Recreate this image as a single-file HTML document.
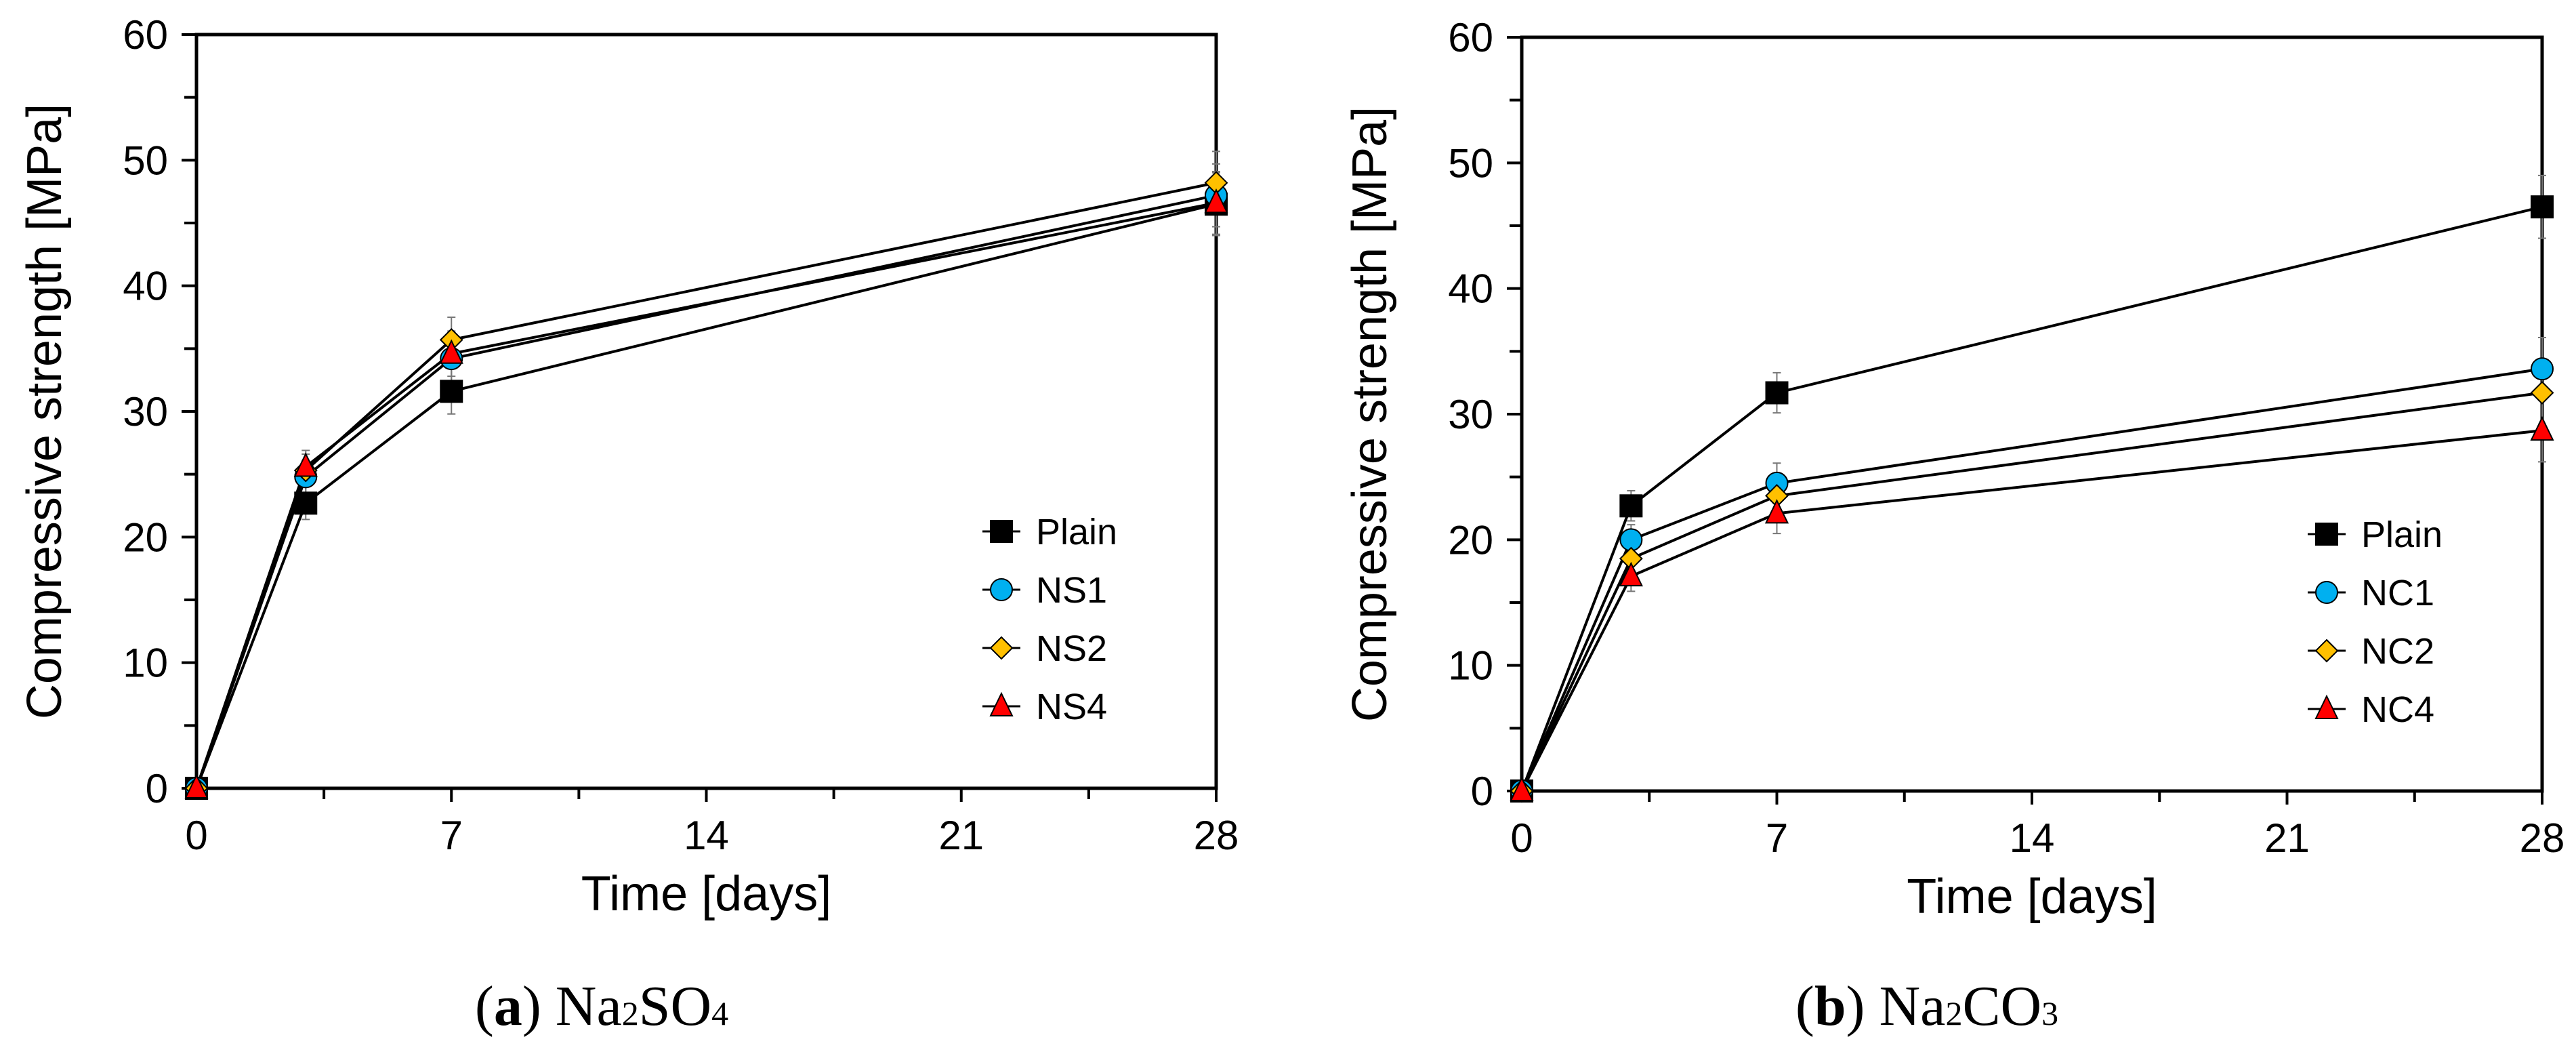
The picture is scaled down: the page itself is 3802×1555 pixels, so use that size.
<!DOCTYPE html>
<html><head><meta charset="utf-8"><style>
html,body{margin:0;padding:0;background:#fff;}
svg{display:block;}
text{font-family:"Liberation Sans",Arial,sans-serif;fill:#000;}
.cap{font-family:"Liberation Serif","Times New Roman",serif;}
</style></head><body>
<svg id="fig" width="3802" height="1555" viewBox="0 0 3802 1555" xmlns="http://www.w3.org/2000/svg"></svg>
<script>
const days = [0, 3, 7, 28];
const xTicks = [0, 7, 14, 21, 28];
const yTicks = [0, 10, 20, 30, 40, 50, 60];
const aNames = ["Plain", "NS1", "NS2", "NS4"];
const aPlain = [0, 22.7, 31.6, 46.5];
const aNS1 = [0, 24.8, 34.2, 47.2];
const aNS2 = [0, 25.3, 35.7, 48.2];
const aNS4 = [0, 25.6, 34.6, 46.6];
const aErr = [0, 1.3, 1.8, 2.5];
const bNames = ["Plain", "NC1", "NC2", "NC4"];
const bPlain = [0, 22.7, 31.7, 46.5];
const bNC1 = [0, 20.0, 24.5, 33.6];
const bNC2 = [0, 18.5, 23.5, 31.7];
const bNC4 = [0, 17.1, 22.1, 28.7];
const bErr = [0, 1.2, 1.6, 2.5];

const NS = "http://www.w3.org/2000/svg";
const svg = document.getElementById('fig');
function mk(tag, attrs, parent) {
  const e = document.createElementNS(NS, tag);
  for (const k in attrs) e.setAttribute(k, attrs[k]);
  (parent || svg).appendChild(e);
  return e;
}
const styles = [
  {shape: 'square', fill: '#000'},
  {shape: 'circle', fill: '#00b0f0'},
  {shape: 'diamond', fill: '#ffc000'},
  {shape: 'triangle', fill: '#ff0000'}
];
function marker(g, shape, fill, cx, cy) {
  let e;
  if (shape === 'square') e = mk('rect', {x: cx - 16, y: cy - 16, width: 32, height: 32, fill: fill, stroke: '#000', 'stroke-width': 2}, g);
  else if (shape === 'circle') e = mk('circle', {cx: cx, cy: cy, r: 16, fill: fill, stroke: '#000', 'stroke-width': 2}, g);
  else if (shape === 'diamond') e = mk('polygon', {points: `${cx},${cy-16} ${cx+16},${cy} ${cx},${cy+16} ${cx-16},${cy}`, fill: fill, stroke: '#000', 'stroke-width': 2}, g);
  else e = mk('polygon', {points: `${cx},${cy-19} ${cx+16},${cy+14} ${cx-16},${cy+14}`, fill: fill, stroke: '#000', 'stroke-width': 2}, g);
  return e;
}
function panel(id, L, R, T, B, names, series, err, caption, sub1, sub2, captionX) {
  const g = mk('g', {});
  
  
  const xs = d => L + (d / 28) * (R - L);
  const ys = v => B - (v / 60) * (B - T);
  for (let v = 0; v <= 60; v += 5) {
    const t = mk('line', {x1: L - (v % 10 === 0 ? 22 : 18), x2: L, y1: ys(v), y2: ys(v), stroke: '#000', 'stroke-width': 4}, g);
    
    
  }
  yTicks.forEach(v => {
    const t = mk('text', {x: L - 42, y: ys(v) + 21, 'font-size': 60, 'text-anchor': 'end'}, g);
    t.textContent = v;
    
    
  });
  for (let d = 3.5; d <= 28; d += 3.5) {
    const t = mk('line', {x1: xs(d), x2: xs(d), y1: B, y2: B + (d % 7 === 0 ? 20 : 16), stroke: '#000', 'stroke-width': 4}, g);
    
    
  }
  xTicks.forEach(d => {
    const t = mk('text', {x: xs(d), y: B + 90, 'font-size': 60, 'text-anchor': 'middle'}, g);
    t.textContent = d;
    
    
  });
  const frame = mk('rect', {x: L, y: T, width: R - L, height: B - T, fill: 'none', stroke: '#000', 'stroke-width': 5}, g);
  
  
  const xt = mk('text', {x: (L + R) / 2, y: B + 180, 'font-size': 72, 'text-anchor': 'middle'}, g);
  xt.textContent = 'Time [days]';
  
  
  const yt = mk('text', {x: 0, y: 0, 'font-size': 72, 'text-anchor': 'middle', transform: `translate(${L - 200},${(T + B) / 2}) rotate(-90)`}, g);
  yt.textContent = 'Compressive strength [MPa]';
  
  
  series.forEach((s, i) => {
    const sg = mk('g', {}, g);
    
    
    s.forEach((v, j) => {
      if (err[j] > 0) {
        const eb = mk('path', {d: `M${xs(days[j])},${ys(v - err[j])}V${ys(v + err[j])}M${xs(days[j]) - 6},${ys(v - err[j])}h12M${xs(days[j]) - 6},${ys(v + err[j])}h12`, stroke: '#777', 'stroke-width': 2, fill: 'none'}, sg);
        
        
      }
    });
    const pl = mk('polyline', {points: s.map((v, j) => xs(days[j]) + ',' + ys(v)).join(' '), fill: 'none', stroke: '#000', 'stroke-width': 4}, sg);
    
    
  });
  series.forEach((s, i) => {
    s.forEach((v, j) => {
      const m = marker(g, styles[i].shape, styles[i].fill, xs(days[j]), ys(v));
      
      
    });
  });
  const lg = mk('g', {}, g);
  
  
  names.forEach((n, i) => {
    const cy = T + 733 + i * 86;
    const cx = L + 1188;
    const e = mk('g', {}, lg);
    
    
    mk('line', {x1: cx - 28, x2: cx + 28, y1: cy, y2: cy, stroke: '#000', 'stroke-width': 3}, e);
    marker(e, styles[i].shape, styles[i].fill, cx, cy);
    const t = mk('text', {x: cx + 51, y: cy + 19, 'font-size': 54}, e);
    t.textContent = n;
  });
  const c = mk('text', {x: captionX, y: 1512, 'font-size': 84, 'text-anchor': 'middle', class: 'cap'}, g);
  
  
  c.innerHTML = `(<tspan font-weight="bold">${caption}</tspan>) Na<tspan font-size="50">2</tspan>${sub1}<tspan font-size="50">${sub2}</tspan>`;
}
panel('panel-a-na2so4', 290, 1795, 51, 1163, aNames, [aPlain, aNS1, aNS2, aNS4], aErr, 'a', 'SO', '4', 888);
panel('panel-b-na2co3', 2246, 3752, 55, 1167, bNames, [bPlain, bNC1, bNC2, bNC4], bErr, 'b', 'CO', '3', 2844);
</script>
</body></html>
